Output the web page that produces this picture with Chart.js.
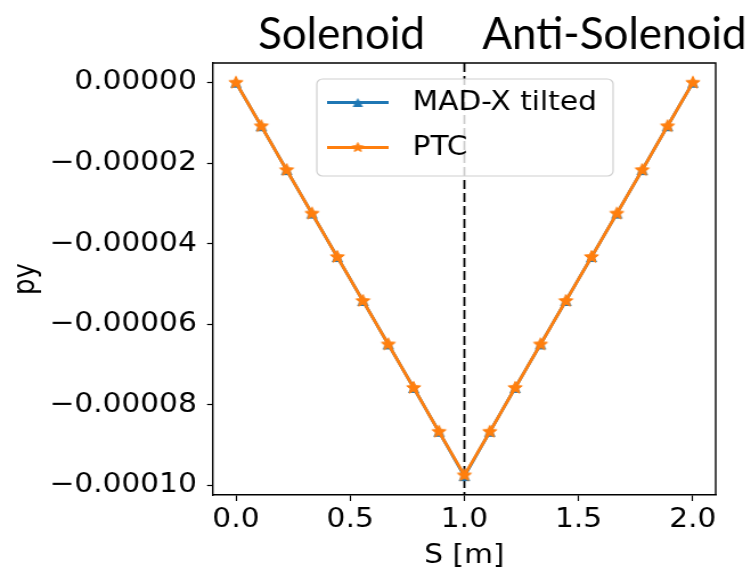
<!DOCTYPE html>
<html><head><meta charset="utf-8">
<script src="https://cdn.jsdelivr.net/npm/chart.js@4.4.1/dist/chart.umd.min.js"></script>
<style>
html,body{margin:0;padding:0;background:#fff;overflow:hidden}
#wrap{width:659px;height:572px;transform:scaleX(1.13961);transform-origin:0 0}
canvas{display:block}
</style></head>
<body><div id="wrap"><canvas id="c" width="659" height="572"></canvas></div>
<script>
// ---- data ----
const sValues = [0, 0.111, 0.222, 0.333, 0.444, 0.556, 0.667, 0.778, 0.889, 1.0,
                 1.111, 1.222, 1.333, 1.444, 1.556, 1.667, 1.778, 1.889, 2.0];
const madxPy = [0, -0.0000108, -0.0000217, -0.0000325, -0.0000433, -0.0000542, -0.000065, -0.0000758, -0.0000867, -0.0000977,
                -0.0000867, -0.0000758, -0.000065, -0.0000542, -0.0000433, -0.0000325, -0.0000217, -0.0000108, 0];
const ptcPy  = [0, -0.0000108, -0.0000217, -0.0000325, -0.0000433, -0.0000542, -0.000065, -0.0000758, -0.0000867, -0.0000975,
                -0.0000867, -0.0000758, -0.000065, -0.0000542, -0.0000433, -0.0000325, -0.0000217, -0.0000108, 0];
const seriesLabels = ['MAD-X tilted', 'PTC'];
const xTicks = [0, 0.5, 1.0, 1.5, 2.0];
const yTicks = [0, -0.00002, -0.00004, -0.00006, -0.00008, -0.0001];
const regionLabels = ['Solenoid', 'Anti-Solenoid'];
const boundaryS = 1.0;
const xLabel = 'S [m]';
const yLabel = 'py';

// ---- styling ----
const SX = 751 / 659;
const BLUE = '#1f77b4', ORANGE = '#ff7f0e';
const FONT = 'DejaVu Sans';

function makeStar(r, color) {
  const size = Math.ceil(r * 2 + 3);
  const c = document.createElement('canvas');
  c.width = size; c.height = size;
  const g = c.getContext('2d');
  g.fillStyle = color; g.strokeStyle = color; g.lineWidth = 1; g.lineJoin = 'round';
  g.beginPath();
  for (let i = 0; i < 10; i++) {
    const a = -Math.PI / 2 + i * Math.PI / 5;
    const rr = i % 2 === 0 ? r : r * 0.45;
    g.lineTo(size / 2 + rr * Math.cos(a), size / 2 + rr * Math.sin(a));
  }
  g.closePath(); g.fill(); g.stroke();
  return c;
}
function makeTri(h, color) {
  const size = Math.ceil(h * 2 + 2);
  const c = document.createElement('canvas');
  c.width = size; c.height = size;
  const g = c.getContext('2d');
  const m = size / 2;
  g.fillStyle = color;
  g.beginPath();
  g.moveTo(m, m - h); g.lineTo(m + h, m + h); g.lineTo(m - h, m + h);
  g.closePath(); g.fill();
  return c;
}
const starImg = makeStar(6.5, ORANGE);
const starSmall = makeStar(5, ORANGE);
const triImg = makeTri(5, BLUE);
const triSmall = makeTri(4.5, BLUE);

const framePlugin = {
  id: 'frame',
  beforeDatasetsDraw(chart) {
    const {ctx, chartArea: a, scales: {x}} = chart;
    const px = x.getPixelForValue(boundaryS);
    ctx.save();
    ctx.strokeStyle = '#000';
    ctx.lineWidth = 1.8;
    ctx.setLineDash([9, 4]);
    ctx.beginPath();
    ctx.moveTo(px, a.top); ctx.lineTo(px, a.bottom);
    ctx.stroke();
    ctx.restore();
  },
  afterDraw(chart) {
    const {ctx, chartArea: a} = chart;
    ctx.save();
    ctx.strokeStyle = '#000';
    ctx.lineWidth = 1.4;
    ctx.beginPath();
    ctx.moveTo(a.left, a.top); ctx.lineTo(a.right, a.top); ctx.lineTo(a.right, a.bottom);
    ctx.stroke();

    // legend (inside plot)
    const lx = 278, ly = 79, lw = 260, lh = 97, rad = 5;
    ctx.fillStyle = 'rgba(255,255,255,0.8)';
    ctx.strokeStyle = '#d0d0d0';
    ctx.lineWidth = 1.2;
    ctx.beginPath();
    ctx.roundRect(lx, ly, lw, lh, rad);
    ctx.fill(); ctx.stroke();
    const rows = [102.5, 147.5];
    const colors = [BLUE, ORANGE];
    const marks = [triSmall, starSmall];
    rows.forEach((yy, i) => {
      ctx.strokeStyle = colors[i];
      ctx.lineWidth = 2.8;
      ctx.beginPath(); ctx.moveTo(287, yy); ctx.lineTo(341, yy); ctx.stroke();
      ctx.drawImage(marks[i], 314 - marks[i].width / 2, yy - marks[i].height / 2);
      ctx.fillStyle = '#000';
      ctx.font = '26px "' + FONT + '"';
      ctx.textAlign = 'left';
      ctx.textBaseline = 'middle';
      ctx.fillText(seriesLabels[i], 362, yy + 1);
    });

    // region labels above plot (unstretched)
    ctx.scale(1 / SX, 1);
    ctx.fillStyle = '#000';
    ctx.font = '44px Lato';
    ctx.textAlign = 'center';
    ctx.textBaseline = 'alphabetic';
    ctx.fillText(regionLabels[0], 341.5, 49);
    ctx.fillText(regionLabels[1], 614.5, 49);
    ctx.restore();
  }
};

const tickFont = {family: FONT, size: 26};
new Chart(document.getElementById('c'), {
  type: 'line',
  data: {
    datasets: [
      {
        label: seriesLabels[0],
        data: sValues.map((s, i) => ({x: s, y: madxPy[i]})),
        borderColor: BLUE, backgroundColor: BLUE, order: 1,
        borderWidth: 2.8, pointStyle: triImg, pointRadius: 6,
        tension: 0, fill: false
      },
      {
        label: seriesLabels[1],
        data: sValues.map((s, i) => ({x: s, y: ptcPy[i]})),
        borderColor: ORANGE, backgroundColor: ORANGE, order: 0,
        borderWidth: 2.8, pointStyle: starImg, pointRadius: 6.5,
        tension: 0, fill: false
      }
    ]
  },
  options: {
    responsive: false,
    animation: false,
    devicePixelRatio: 1,
    layout: {padding: {left: 6, right: 31, top: 63, bottom: 0}},
    plugins: {legend: {display: false}, tooltip: {enabled: false}},
    scales: {
      x: {
        type: 'linear', min: -0.1, max: 2.1,
        afterBuildTicks: s => { s.ticks = xTicks.map(v => ({value: v})); },
        afterFit: s => { s.height = 77; },
        ticks: {font: tickFont, color: '#000', padding: 4, maxRotation: 0, autoSkip: false,
                callback: v => Number(v).toFixed(1)},
        grid: {display: true, drawOnChartArea: false, drawTicks: true, tickLength: 6, tickColor: '#000', tickWidth: 1.2},
        border: {display: true, color: '#000', width: 1.4},
        title: {display: true, text: xLabel, font: tickFont, color: '#000', padding: {top: 0, bottom: 0}}
      },
      y: {
        type: 'linear', min: -0.0001024, max: 0.0000049,
        afterBuildTicks: s => { s.ticks = yTicks.map(v => ({value: v})); },
        afterFit: s => { s.width = 181; },
        ticks: {font: tickFont, color: '#000', padding: 9, autoSkip: false,
                callback: v => (v < 0 ? '\u2212' : '') + Math.abs(v).toFixed(5)},
        grid: {display: true, drawOnChartArea: false, drawTicks: true, tickLength: 5.3, tickColor: '#000', tickWidth: 1.2},
        border: {display: true, color: '#000', width: 1.4},
        title: {display: true, text: yLabel, font: tickFont, color: '#000', padding: {top: 2, bottom: 0}}
      }
    }
  },
  plugins: [framePlugin]
});
</script>
</body></html>
